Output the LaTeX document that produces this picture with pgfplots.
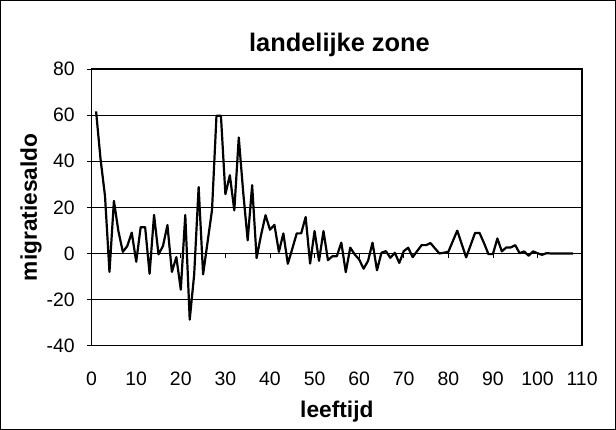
\documentclass[border=0pt]{standalone}
\usepackage{fontspec}
\setmainfont{Liberation Sans}
\usepackage{pgfplots}
\pgfplotsset{compat=1.18}

\begin{document}
\begin{tikzpicture}
\begin{axis}[
    name=ax,
    scale only axis,
    width=490.3bp, height=276.7bp,
    xmin=0, xmax=110, ymin=-40, ymax=80,
    xtick={0,10,...,110},
    ytick={-40,-20,...,80},
    ymajorgrids,
    grid style={black, line width=0.8bp},
    axis line style={black, line width=1.4bp},
    xtick style={draw=none},
    ytick style={black, line width=0.8bp},
    tick align=outside,
    major tick length=5bp,
    ytick pos=left,
    tick label style={font=\fontsize{19.5}{22}\selectfont},
    /pgf/number format/assume math mode=true,
    xticklabel style={anchor=base, yshift=-35bp},
    yticklabel style={anchor=east, inner sep=0pt, xshift=-11.7bp},
    clip=false,
]
    %% migratiesaldo per leeftijd
    \addplot[black, line width=2.2bp, mark=none, line join=round] coordinates {
        (1,61.6) (2,40.9) (3,24.9) (4,-8) (5,22.8) (6,9.7) (7,0.7) (8,3.2)
        (9,9) (10,-3.6) (11,11.4) (12,11.4) (13,-8.8) (14,16.7) (15,-0.4)
        (16,3.2) (17,12.3) (18,-8) (19,-1.6) (20,-15.7) (21,16.7) (22,-28.7)
        (23,-9.1) (24,28.8) (25,-9.1) (26,4.9) (27,18.8) (28,59.7) (29,59.7)
        (30,25.7) (31,33.9) (32,18.7) (33,50.3) (34,26.4) (35,5.7) (36,29.6)
        (37,-2.0) (38,8.0) (39,16.6) (40,10.3) (41,12.4) (42,0.7) (43,8.7)
        (44,-4.5) (45,2.0) (46,8.7) (47,8.7) (48,15.8) (49,-4.4) (50,9.7)
        (51,-3.2) (52,9.7) (53,-2.9) (54,-1.2) (55,-1.2) (56,4.7) (57,-8.1)
        (58,2.5) (59,-0.4) (60,-2.6) (61,-6.6) (62,-3.2) (63,4.7) (64,-7.3)
        (65,0.3) (66,1.0) (67,-1.9) (68,0.3) (69,-4.1) (70,1.0) (71,2.5)
        (72,-1.6) (73,1.0) (74,3.6) (75,3.6) (76,4.5) (77,2.2) (78,0)
        (79,0.3) (80,0.7) (81,5.3) (82,9.9) (83,4.1) (84,-1.7) (85,3.6)
        (86,8.9) (87,8.9) (88,4.5) (89,-0.3) (90,-0.3) (91,6.5) (92,0.9)
        (93,2.6) (94,2.6) (95,3.6) (96,0.1) (97,0.9) (98,-1.0) (99,0.9)
        (100,0.1) (101,-0.6) (102,0.1) (103,0) (104,0) (105,0) (106,0)
        (107,0) (108,0)
    };

    %% tick marks on the zero line
    \pgfplotsinvokeforeach{10,20,...,100}{
        \draw[black, line width=0.8bp]
            (axis cs:#1,0) -- ([yshift=-4.5bp]axis cs:#1,0);
    }

    \node[font=\fontsize{25.5}{28}\selectfont\bfseries, anchor=base]
        at ([xshift=2.6bp, yshift=17bp]rel axis cs:0.5,1) {landelijke zone};
    \node[font=\fontsize{22.8}{26}\selectfont\bfseries, anchor=base, rotate=90]
        at ([xshift=-54.7bp]rel axis cs:0,0.5) {migratiesaldo};
    \node[font=\fontsize{22.8}{26}\selectfont\bfseries, anchor=base]
        at ([yshift=-71.3bp]rel axis cs:0.5,0) {leeftijd};
\end{axis}
\draw[black, line width=0.8bp]
    ([xshift=-91.2bp, yshift=-83.8bp]ax.south west)
    rectangle ([xshift=33.5bp, yshift=68.5bp]ax.north east);
\end{tikzpicture}
\end{document}
